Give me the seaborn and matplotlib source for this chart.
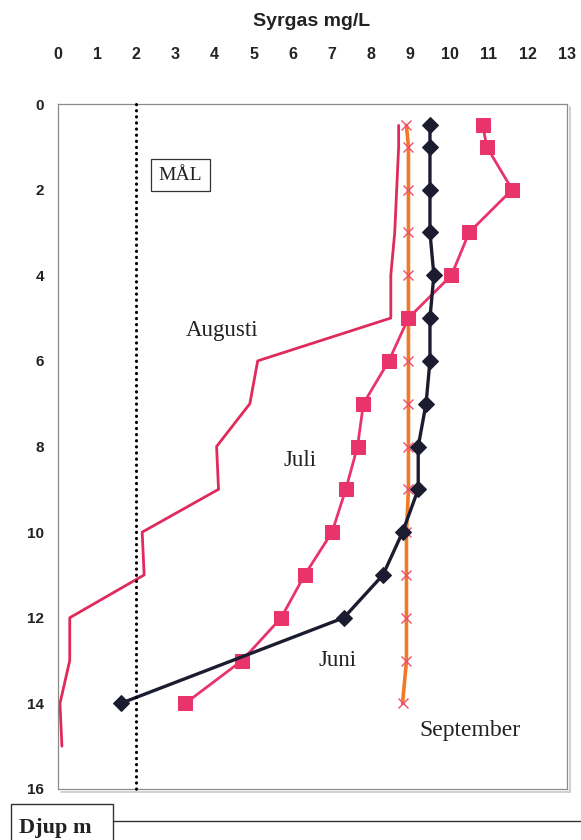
import matplotlib
matplotlib.use("Agg")
import matplotlib.pyplot as plt
from matplotlib.patches import Rectangle
from matplotlib.lines import Line2D
import seaborn as sns

# Oxygen profiles (mg/L) by depth (m)
depth_juni = [0.5, 1, 2, 3, 4, 5, 6, 7, 8, 9, 10, 11, 12, 14]
syrgas_juni = [9.5, 9.5, 9.5, 9.5, 9.6, 9.5, 9.5, 9.4, 9.2, 9.2, 8.8, 8.3, 7.3, 1.6]

depth_juli = [0.5, 1, 2, 3, 4, 5, 6, 7, 8, 9, 10, 11, 12, 13, 14]
syrgas_juli = [10.85, 10.95, 11.6, 10.5, 10.05, 8.95, 8.45, 7.8, 7.65, 7.35, 7.0, 6.3, 5.7, 4.7, 3.25]

depth_augusti = [0.5, 1, 2, 3, 4, 5, 6, 7, 8, 9, 10, 11, 12, 13, 14, 15]
syrgas_augusti = [8.7, 8.7, 8.65, 8.6, 8.5, 8.5, 5.1, 4.9, 4.05, 4.1, 2.15, 2.2, 0.3, 0.3, 0.05, 0.1]

depth_september = [0.5, 1, 2, 3, 4, 5, 6, 7, 8, 9, 10, 11, 12, 13, 14]
syrgas_september = [8.9, 8.95, 8.95, 8.95, 8.95, 8.95, 8.95, 8.95, 8.95, 8.95, 8.9, 8.9, 8.9, 8.9, 8.8]

mal_value = 2
x_ticks = list(range(0, 14))
y_ticks = list(range(0, 17, 2))

sns.set_theme(style="white")

fig = plt.figure(figsize=(5.81, 8.4), dpi=100)
W, H = 581, 840
ax = fig.add_axes([58 / W, 1 - 789 / H, (567 - 58) / W, (789 - 104) / H])

C_JUNI = "#1c1c30"
C_JULI = "#e8336b"
C_AUG = "#e02a5c"
C_SEP = "#f07a2a"
C_SEPM = "#ec4f72"

sns.lineplot(x=syrgas_augusti, y=depth_augusti, sort=False, estimator=None,
             color=C_AUG, lw=2.0, ax=ax)
sns.lineplot(x=syrgas_september, y=depth_september, sort=False, estimator=None,
             color=C_SEP, lw=2.6, marker="x", markersize=7,
             markeredgecolor=C_SEPM, markeredgewidth=1.0, ax=ax)
sns.lineplot(x=syrgas_juli, y=depth_juli, sort=False, estimator=None,
             color=C_JULI, lw=2.0, marker="s", markersize=10,
             markeredgecolor=C_JULI, markerfacecolor=C_JULI, ax=ax)
sns.lineplot(x=syrgas_juni, y=depth_juni, sort=False, estimator=None,
             color=C_JUNI, lw=2.4, marker="D", markersize=8.5,
             markeredgecolor=C_JUNI, markerfacecolor=C_JUNI, ax=ax)

# target line
ax.add_line(Line2D([mal_value, mal_value], [0, 16.1], color="black", lw=2.2,
                   linestyle=(0, (0.1, 1.9)), dash_capstyle="round",
                   clip_on=False, zorder=5))

ax.set_xlim(0, 13)
ax.set_ylim(16, 0)
ax.xaxis.tick_top()
ax.set_xticks(x_ticks)
ax.set_yticks(y_ticks)
ax.set_xlabel("")
ax.set_ylabel("")
ax.tick_params(axis="x", length=0, pad=30, labelsize=11.5)
ax.tick_params(axis="y", length=0, pad=10, labelsize=11)
for lab in ax.get_xticklabels() + ax.get_yticklabels():
    lab.set_fontweight("bold")
    lab.set_fontfamily("Liberation Sans")
    lab.set_color("#222222")

for sp in ax.spines.values():
    sp.set_color("#8a8a8a")
    sp.set_linewidth(0.9)

# drop shadow along right and bottom edges of the frame
fig.add_artist(Line2D([570 / W, 570 / W], [1 - 107 / H, 1 - 792 / H],
                      color="#c8c8c8", lw=1.2, transform=fig.transFigure))
fig.add_artist(Line2D([61 / W, 570 / W], [1 - 792 / H, 1 - 792 / H],
                      color="#c8c8c8", lw=1.2, transform=fig.transFigure))

fig.text(312 / W, 1 - 22 / H, "Syrgas mg/L", ha="center", va="center",
         fontsize=14, fontweight="bold", family="Liberation Sans", color="#222222")

serif = "Liberation Serif"
ax.text(3.12, 1.66, "MÅL", ha="center", va="center", fontsize=14, family=serif,
        color="#222222",
        bbox=dict(boxstyle="square,pad=0.4", fc="white", ec="#333333", lw=0.9))
ax.text(4.19, 5.28, "Augusti", ha="center", va="center", fontsize=16.5, family=serif, color="#222222")
ax.text(6.18, 8.32, "Juli", ha="center", va="center", fontsize=16.5, family=serif, color="#222222")
ax.text(7.15, 12.99, "Juni", ha="center", va="center", fontsize=16.5, family=serif, color="#222222")
ax.text(10.52, 14.63, "September", ha="center", va="center", fontsize=17, family=serif, color="#222222")

# depth caption box at the bottom
fig.add_artist(Rectangle((11 / W, -0.02), (113 - 11) / W, 0.02 + (840 - 804) / H,
                         transform=fig.transFigure, fill=False, ec="#333333", lw=1.0))
fig.add_artist(Line2D([113 / W, 1.0], [1 - 821 / H, 1 - 821 / H], color="#333333",
                      lw=1.0, transform=fig.transFigure))
fig.text(55 / W, 1 - 833 / H, "Djup m", ha="center", va="baseline", fontsize=16,
         fontweight="bold", family=serif, color="#222222")

fig.savefig("out.png", dpi=100)
